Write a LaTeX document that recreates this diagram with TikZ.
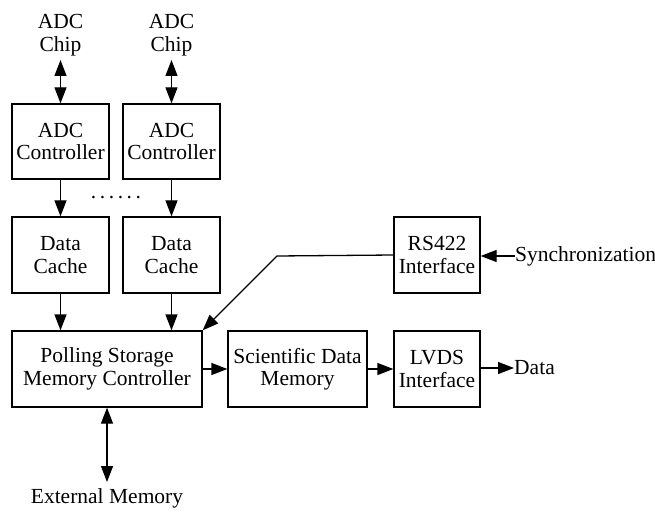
\documentclass[tikz,border=0pt]{standalone}
\usepackage{fontspec}
\setmainfont{Liberation Serif}
\usetikzlibrary{arrows.meta}
\begin{document}
\begin{tikzpicture}[x=1pt,y=1pt,
  block/.style={draw,line width=1.3pt,inner sep=0pt,align=center,
    font=\fontsize{21.5}{22.5}\selectfont},
  lbl/.style={inner sep=0pt,align=center,font=\fontsize{21.5}{22.5}\selectfont},
  link/.style={line width=1.3pt,-{Triangle[length=16pt,width=12pt]}},
  both/.style={line width=1.3pt,{Triangle[length=16pt,width=12pt]}-{Triangle[length=16pt,width=12pt]}}]
\useasboundingbox (0,0) rectangle (655,512);

% ADC chips
\node[lbl] (chip1) at (60.5,477) {ADC\\Chip};
\node[lbl] (chip2) at (171.5,477) {ADC\\Chip};

% ADC controllers and caches
\node[block,minimum width=97pt,minimum height=75pt] (ctrl1) at (60.5,370.5) {ADC\\Controller};
\node[block,minimum width=97pt,minimum height=75pt] (ctrl2) at (171.5,370.5) {ADC\\Controller};
\node[block,minimum width=97pt,minimum height=76pt] (cache1) at (60.5,257) {Data\\Cache};
\node[block,minimum width=97pt,minimum height=76pt] (cache2) at (171.5,257) {Data\\Cache};
\node[lbl] (dots) at (116,314) {.\,.\,.\,.\,.\,.};

% interfaces and memory chain
\node[block,minimum width=86pt,minimum height=76pt] (rs) at (437,257) {RS422\\Interface};
\node[block,minimum width=190pt,minimum height=76pt] (poll) at (107,143) {Polling Storage\\Memory Controller};
\node[block,minimum width=139pt,minimum height=76pt] (sci) at (297.5,143) {Scientific Data\\Memory};
\node[block,minimum width=86pt,minimum height=76pt] (lvds) at (437,143) {LVDS\\Interface};

\node[lbl,anchor=west] (sync) at (515,256) {Synchronization};
\node[lbl,anchor=west] (data) at (514,144) {Data};
\node[lbl] (ext) at (107,14) {External Memory};

% connectors
\draw[both] (ctrl1.north |- 0,452) -- (ctrl1.north);
\draw[both] (ctrl2.north |- 0,452) -- (ctrl2.north);
\draw[link] (ctrl1) -- (cache1);
\draw[link] (ctrl2) -- (cache2);
\draw[link] (cache1) -- (cache1 |- poll.north);
\draw[link] (cache2) -- (cache2 |- poll.north);
\coordinate (bend) at (277,256);
\draw[link] (rs.west) -- (bend) -- (poll.north east);
\draw[link] (sync.west) -- (rs.east |- sync.west);
\draw[link] (poll.east |- 0,143) -- (sci.west);
\draw[link] (sci) -- (lvds);
\draw[link] (lvds.east |- data.west) -- (data.west);
\draw[both] (poll.south) -- (ext.north |- 0,30);
\end{tikzpicture}
\end{document}
